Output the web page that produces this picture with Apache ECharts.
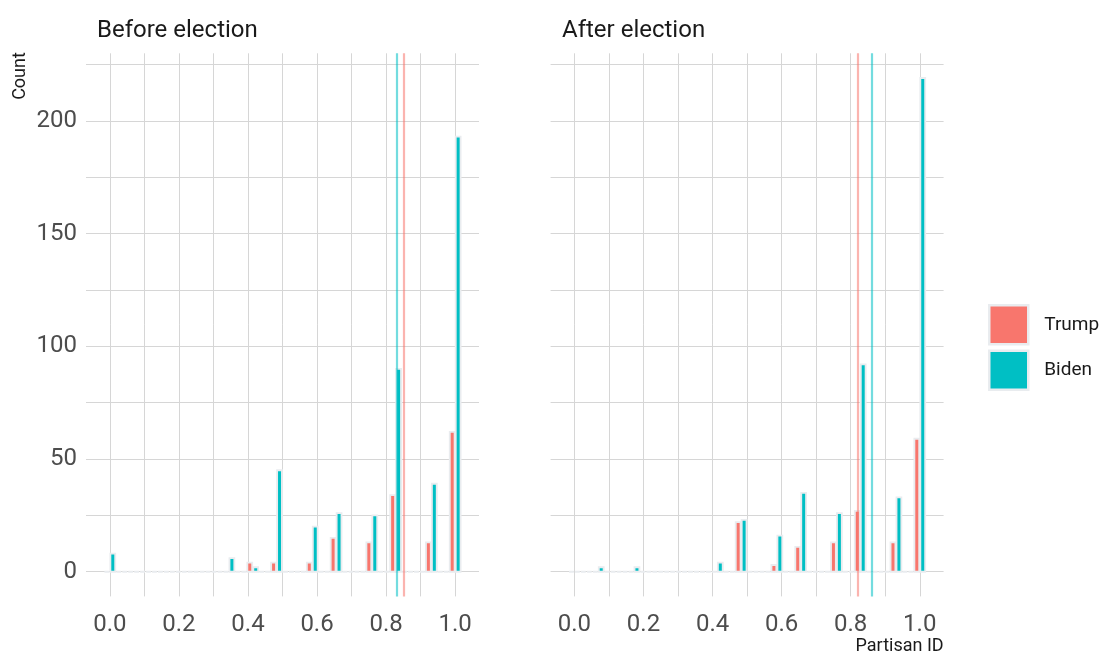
<!DOCTYPE html>
<html>
<head>
<meta charset="utf-8">
<script src="https://cdn.jsdelivr.net/npm/echarts@6/dist/echarts.min.js"></script>
<style>
	html, body {margin: 0; padding: 0; background: #fff;}
	#chart {width: 1099px; height: 654px;}
</style>
</head>
<body>
<div id="chart"></div>
<script>
// 30 bins of partisan ID, bin i centred at i / 29
const binCount = 30;
const beforeTrump = [0,0,0,0,0,0,0,0,0,0, 0,0,4,0,4,0,0,4,0,15, 0,0,13,0,34,0,0,13,0,62];
const beforeBiden = [8,0,0,0,0,0,0,0,0,0, 6,0,2,0,45,0,0,20,0,26, 0,0,25,0,90,0,0,39,0,193];
const afterTrump = [0,0,0,0,0,0,0,0,0,0, 0,0,0,0,22,0,0,3,0,11, 0,0,13,0,27,0,0,13,0,59];
const afterBiden = [0,0,2,0,0,2,0,0,0,0, 0,0,4,0,23,0,0,16,0,35, 0,0,26,0,92,0,0,33,0,219];

// mean partisan ID per group (vertical lines)
const beforeMeans = {Trump: 0.855, Biden: 0.828};
const afterMeans = {Trump: 0.824, Biden: 0.861};

const panelTitles = ['Before election', 'After election'];
const xGridVals = [0, 0.1, 0.2, 0.3, 0.4, 0.5, 0.6, 0.7, 0.8, 0.9, 1.0];
const xLabelVals = [0, 0.2, 0.4, 0.6, 0.8, 1.0];
const yGridVals = [0, 25, 50, 75, 100, 125, 150, 175, 200, 225];
const yLabelVals = [0, 50, 100, 150, 200];

const colors = {Trump: '#F8766D', Biden: '#00BFC4'};
const meanColors = {Trump: 'rgba(248,118,109,0.55)', Biden: 'rgba(0,191,196,0.55)'};
const OUTLINE = '#e9ecef';
const GRID_COLOR = '#d6d6d6';
const FONT = "Roboto, 'Liberation Sans', sans-serif";
const BIN_W = 1 / (binCount - 1);

const chart = echarts.init(document.getElementById('chart'), null, {renderer: 'canvas'});

// dodge: k = 0 left half of bin, k = 1 right half
function barRenderer(k) {
	return function (params, api) {
		const c = api.value(0), n = api.value(1);
		const p0 = api.coord([c - BIN_W / 2 + k * BIN_W / 2, n]);
		const p1 = api.coord([c + k * BIN_W / 2, 0]);
		const w = p1[0] - p0[0];
		return {
			type: 'rect',
			shape: {x: p0[0] + 0.55, y: p0[1], width: w - 1.1, height: p1[1] - p0[1]},
			style: {fill: api.visual('color'), stroke: OUTLINE, lineWidth: 1.85}
		};
	};
}

function makeSeries(name, counts, gridIdx, k, mean) {
	return {
		name: name,
		type: 'custom',
		xAxisIndex: gridIdx,
		yAxisIndex: gridIdx,
		renderItem: barRenderer(k),
		itemStyle: {color: colors[name]},
		encode: {x: 0, y: 1},
		data: counts.map((n, i) => [i / (binCount - 1), n]),
		markLine: {
			silent: true,
			symbol: 'none',
			label: {show: false},
			lineStyle: {color: meanColors[name], width: 2.2, type: 'solid'},
			data: [{xAxis: mean}]
		},
		z: 3
	};
}

function xAxis(gridIdx) {
	return {
		type: 'value',
		gridIndex: gridIdx,
		min: -0.069,
		max: 1.069,
		axisLine: {show: false},
		axisTick: {show: false, customValues: xGridVals},
		axisLabel: {
			customValues: xLabelVals,
			formatter: v => v.toFixed(1),
			color: '#4d4d4d',
			fontSize: 24,
			fontFamily: FONT,
			margin: 17
		},
		splitLine: {show: true, lineStyle: {color: GRID_COLOR, width: 1}}
	};
}

function yAxis(gridIdx) {
	return {
		type: 'value',
		gridIndex: gridIdx,
		min: -10.95,
		max: 229.95,
		axisLine: {show: false},
		axisTick: {show: false, customValues: yGridVals},
		axisLabel: {
			show: gridIdx === 0,
			customValues: yLabelVals,
			color: '#4d4d4d',
			fontSize: 24,
			fontFamily: FONT,
			margin: 9
		},
		splitLine: {show: true, lineStyle: {color: GRID_COLOR, width: 1}}
	};
}

const option = {
	backgroundColor: '#fff',
	animation: false,
	title: panelTitles.map((t, i) => ({
		text: t,
		left: i === 0 ? 97 : 562,
		top: 19,
		padding: 0,
		textStyle: {fontSize: 24, fontWeight: 'normal', color: '#1a1a1a', fontFamily: FONT}
	})),
	grid: [
		{left: 86, top: 53.3, width: 393, height: 543.1},
		{left: 550.6, top: 53.3, width: 393, height: 543.1}
	],
	xAxis: [xAxis(0), xAxis(1)],
	yAxis: [yAxis(0), yAxis(1)],
	legend: {
		orient: 'vertical',
		left: 988,
		top: 304,
		padding: 0,
		itemWidth: 39,
		itemHeight: 39,
		itemGap: 4,
		icon: 'rect',
		data: ['Trump', 'Biden'],
		itemStyle: {borderColor: OUTLINE, borderWidth: 2.5},
		textStyle: {fontSize: 19, color: '#1a1a1a', fontFamily: FONT, padding: [0, 0, 0, 11]}
	},
	graphic: [
		{
			type: 'text',
			x: 20, y: 76,
			rotation: Math.PI / 2,
			style: {text: 'Count', fontSize: 18, fontFamily: FONT, fill: '#1a1a1a', align: 'center', verticalAlign: 'middle'}
		},
		{
			type: 'text',
			x: 943.6, y: 646,
			style: {text: 'Partisan ID', fontSize: 18, fontFamily: FONT, fill: '#1a1a1a', align: 'right', verticalAlign: 'middle'}
		}
	],
	series: [
		makeSeries('Trump', beforeTrump, 0, 0, beforeMeans.Trump),
		makeSeries('Biden', beforeBiden, 0, 1, beforeMeans.Biden),
		makeSeries('Trump', afterTrump, 1, 0, afterMeans.Trump),
		makeSeries('Biden', afterBiden, 1, 1, afterMeans.Biden)
	]
};

chart.setOption(option);
</script>
</body>
</html>
